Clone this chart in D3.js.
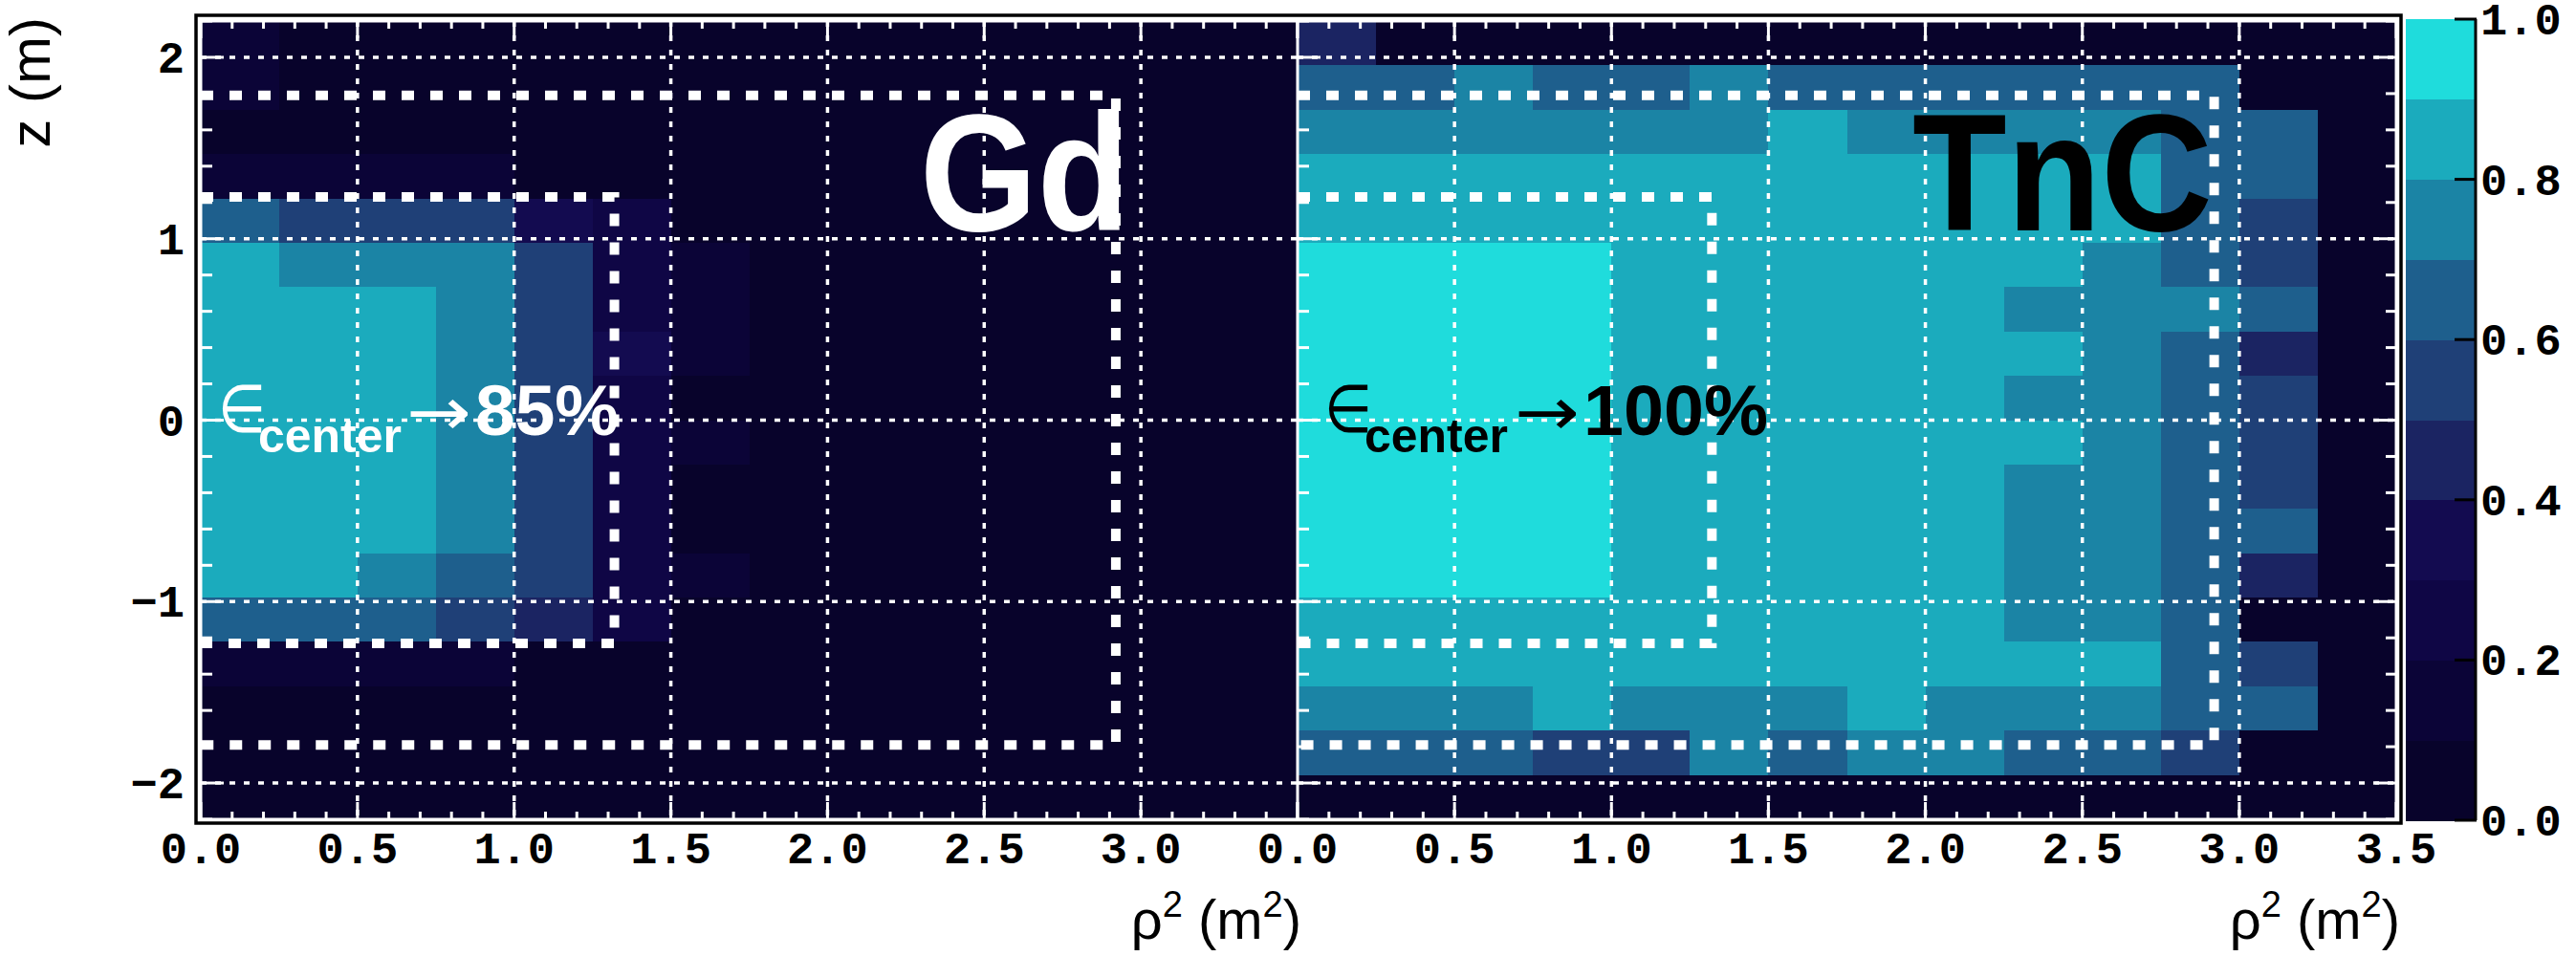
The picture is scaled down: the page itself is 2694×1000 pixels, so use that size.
<!DOCTYPE html>
<html>
<head>
<meta charset="utf-8">
<script src="https://cdn.jsdelivr.net/npm/d3@7"></script>
<style>
	body { margin: 0; background: #fff; }
	svg { display: block; }
</style>
</head>
<body>
<div id="chart"></div>
<script>
// bin edges (rho^2 in m^2, z in m, z listed from top to bottom)
const rho2Edges = [0, 0.25, 0.5, 0.75, 1, 1.25, 1.5, 1.75, 2, 2.25, 2.5, 2.75, 3, 3.25, 3.5]
const zEdges = [2.2, 1.956, 1.711, 1.467, 1.222, 0.978, 0.733, 0.489, 0.244, 0, -0.244, -0.489, -0.733, -0.978, -1.222, -1.467, -1.711, -1.956, -2.2]

// efficiency per cell, one row per z bin (top row first)
const gdEff = [
	[.15, .05, .05, .05, .05, .05, .05, .05, .05, .05, .05, .05, .05, .05],
	[.15, .05, .05, .05, .05, .05, .05, .05, .05, .05, .05, .05, .05, .05],
	[.05, .05, .05, .05, .05, .05, .05, .05, .05, .05, .05, .05, .05, .05],
	[.15, .15, .15, .15, .05, .05, .05, .05, .05, .05, .05, .05, .05, .05],
	[.65, .55, .55, .55, .35, .25, .05, .05, .05, .05, .05, .05, .05, .05],
	[.85, .75, .75, .75, .55, .25, .15, .05, .05, .05, .05, .05, .05, .05],
	[.85, .85, .85, .75, .55, .25, .15, .05, .05, .05, .05, .05, .05, .05],
	[.85, .85, .85, .75, .55, .35, .15, .05, .05, .05, .05, .05, .05, .05],
	[.85, .85, .85, .75, .55, .25, .05, .05, .05, .05, .05, .05, .05, .05],
	[.85, .85, .85, .75, .55, .25, .15, .05, .05, .05, .05, .05, .05, .05],
	[.85, .85, .85, .75, .55, .25, .05, .05, .05, .05, .05, .05, .05, .05],
	[.85, .85, .85, .75, .55, .25, .05, .05, .05, .05, .05, .05, .05, .05],
	[.85, .85, .75, .65, .55, .25, .15, .05, .05, .05, .05, .05, .05, .05],
	[.65, .65, .65, .55, .45, .25, .05, .05, .05, .05, .05, .05, .05, .05],
	[.15, .15, .15, .15, .05, .05, .05, .05, .05, .05, .05, .05, .05, .05],
	[.05, .05, .05, .05, .05, .05, .05, .05, .05, .05, .05, .05, .05, .05],
	[.05, .05, .05, .05, .05, .05, .05, .05, .05, .05, .05, .05, .05, .05],
	[.05, .05, .05, .05, .05, .05, .05, .05, .05, .05, .05, .05, .05, .05]
]

const tncEff = [
	[.45, .05, .05, .05, .05, .05, .05, .05, .05, .05, .05, .05, .05, .05],
	[.65, .65, .75, .65, .65, .75, .65, .65, .65, .65, .65, .65, .05, .05],
	[.75, .75, .75, .75, .75, .75, .85, .75, .75, .75, .75, .65, .65, .05],
	[.85, .85, .85, .85, .85, .85, .85, .85, .85, .85, .85, .65, .65, .05],
	[.85, .85, .85, .85, .85, .85, .85, .85, .85, .85, .85, .65, .55, .05],
	[.95, .95, .95, .95, .85, .85, .85, .85, .85, .85, .75, .65, .55, .05],
	[.95, .95, .95, .95, .85, .85, .85, .85, .85, .75, .75, .75, .65, .05],
	[.95, .95, .95, .95, .85, .85, .85, .85, .85, .85, .75, .65, .45, .05],
	[.95, .95, .95, .95, .85, .85, .85, .85, .85, .75, .75, .65, .55, .05],
	[.95, .95, .95, .95, .85, .85, .85, .85, .85, .85, .75, .65, .55, .05],
	[.95, .95, .95, .95, .85, .85, .85, .85, .85, .75, .75, .65, .55, .05],
	[.95, .95, .95, .95, .85, .85, .85, .85, .85, .75, .75, .65, .65, .05],
	[.95, .95, .95, .95, .85, .85, .85, .85, .85, .75, .75, .65, .45, .05],
	[.85, .85, .85, .85, .85, .85, .85, .85, .85, .75, .75, .65, .05, .05],
	[.85, .85, .85, .85, .85, .85, .85, .85, .85, .85, .85, .65, .55, .05],
	[.75, .75, .75, .85, .75, .75, .75, .85, .75, .75, .75, .65, .65, .05],
	[.65, .65, .65, .55, .55, .75, .65, .75, .75, .65, .65, .55, .05, .05],
	[.05, .05, .05, .05, .05, .05, .05, .05, .05, .05, .05, .05, .05, .05]
]

// 10 discrete palette levels, 0.0 -> 1.0
const palette = ['#08032b', '#0b0437', '#0f0645', '#130b50', '#1b2462', '#1f4077', '#1e5f8d', '#1b84a5', '#1babbd', '#1fdcdc']

const xTicksLeft = [0, 0.5, 1, 1.5, 2, 2.5, 3]
const xTicksRight = [0, 0.5, 1, 1.5, 2, 2.5, 3, 3.5]
const zTicks = [-2, -1, 0, 1, 2]
const cbTicks = [0, 0.2, 0.4, 0.6, 0.8, 1]

// fiducial volume boxes (rho^2, z)
const outerBox = [[0, 1.79], [2.92, 1.79], [2.92, -1.79], [0, -1.79]]
const innerBox = [[0, 1.23], [1.32, 1.23], [1.32, -1.23], [0, -1.23]]

const W = 2694, H = 1000
const plotTop = 22, plotBottom = 857

const svg = d3.select('#chart')
	.append('svg')
	.attr('width', W)
	.attr('height', H)
	.style('background', '#fff')

const y = d3.scaleLinear().domain([-2.2, 2.2]).range([plotBottom, plotTop])
const color = d3.scaleQuantize().domain([0, 1]).range(palette)

const panels = [
	{ data: gdEff, x0: 210, x1: 1357, ticks: xTicksLeft, label: 'Gd', ink: '#fff', rightTicks: false,
		name: { x: 962, len: 219 }, ann: { eps: 228, sub: 270, arr: 425, pct: 497, pctLen: 150, text: '85%' } },
	{ data: tncEff, x0: 1357, x1: 2506, ticks: xTicksRight, label: 'TnC', ink: '#000', rightTicks: true,
		name: { x: 2000, len: 314 }, ann: { eps: 1385, sub: 1427, arr: 1584, pct: 1656, pctLen: 193, text: '100%' } }
]

const monoFont = '"Liberation Mono", "DejaVu Sans Mono", monospace'
const sansFont = '"Liberation Sans", Arial, sans-serif'

panels.forEach(p => {
	const x = d3.scaleLinear().domain([0, 3.5]).range([p.x0, p.x1])
	const g = svg.append('g')

	const cells = []
	p.data.forEach((row, j) => {
		row.forEach((v, i) => {
			cells.push({ i, j, v })
		})
	})

	g.selectAll('rect.cell')
		.data(cells)
		.enter()
		.append('rect')
		.attr('class', 'cell')
		.attr('x', d => x(rho2Edges[d.i]))
		.attr('y', d => y(zEdges[d.j]))
		.attr('width', d => x(rho2Edges[d.i + 1]) - x(rho2Edges[d.i]) + 0.6)
		.attr('height', d => y(zEdges[d.j + 1]) - y(zEdges[d.j]) + 0.6)
		.attr('fill', d => color(d.v))
		.attr('shape-rendering', 'crispEdges')

	// grid
	g.selectAll('line.vgrid')
		.data(xTicksLeft.filter(t => t > 0))
		.enter()
		.append('line')
		.attr('x1', d => x(d)).attr('x2', d => x(d))
		.attr('y1', plotTop).attr('y2', plotBottom)
		.attr('stroke', '#fff')
		.attr('stroke-width', 3.5)
		.attr('stroke-dasharray', '6,9')

	g.selectAll('line.hgrid')
		.data(zTicks)
		.enter()
		.append('line')
		.attr('x1', p.x0).attr('x2', p.x1)
		.attr('y1', d => y(d)).attr('y2', d => y(d))
		.attr('stroke', '#fff')
		.attr('stroke-width', 3.5)
		.attr('stroke-dasharray', '6,9')

	// ticks
	const minorX = d3.range(0, 36).map(k => k / 10)
	const minorZ = d3.range(-11, 12).map(k => k / 5)
	const tickG = g.append('g').attr('stroke', '#fff').attr('stroke-width', 3)

	minorX.forEach(t => {
		const major = Math.abs(t * 2 - Math.round(t * 2)) < 1e-6
		const len = major ? 18 : 8
		tickG.append('line').attr('x1', x(t)).attr('x2', x(t)).attr('y1', plotBottom).attr('y2', plotBottom - len)
		tickG.append('line').attr('x1', x(t)).attr('x2', x(t)).attr('y1', plotTop).attr('y2', plotTop + len)
	})
	minorZ.forEach(t => {
		const major = Math.abs(t - Math.round(t)) < 1e-6
		const len = major ? 24 : 12
		tickG.append('line').attr('x1', p.x0).attr('x2', p.x0 + len).attr('y1', y(t)).attr('y2', y(t))
		if (p.rightTicks) {
			tickG.append('line').attr('x1', p.x1).attr('x2', p.x1 - (major ? 22 : 11)).attr('y1', y(t)).attr('y2', y(t))
		}
	})

	// fiducial boxes
	const line = d3.line().x(d => x(d[0])).y(d => y(d[1]))
	;[outerBox, innerBox].forEach(b => {
		g.append('path')
			.attr('d', line(b))
			.attr('fill', 'none')
			.attr('stroke', '#fff')
			.attr('stroke-width', 10)
			.attr('stroke-dasharray', '13,17')
	})

	// x tick labels
	g.selectAll('text.xtick')
		.data(p.ticks)
		.enter()
		.append('text')
		.attr('x', d => x(d))
		.attr('y', 903)
		.attr('text-anchor', 'middle')
		.attr('font-family', monoFont)
		.attr('font-weight', 'bold')
		.attr('font-size', 47)
		.text(d => d.toFixed(1))

	// axis title
	const title = g.append('text')
		.attr('x', p.x1 + 4)
		.attr('y', 982)
		.attr('text-anchor', 'end')
		.attr('font-family', sansFont)
		.attr('font-size', 58)
	title.append('tspan').text('ρ')
	title.append('tspan').attr('font-size', 38).attr('dy', -23).text('2')
	title.append('tspan').attr('dy', 23).text(' (m')
	title.append('tspan').attr('font-size', 38).attr('dy', -23).text('2')
	title.append('tspan').attr('dy', 23).text(')')

	// material label
	g.append('text')
		.attr('x', p.name.x)
		.attr('y', 241)
		.attr('font-family', sansFont)
		.attr('font-weight', 'bold')
		.attr('font-size', 175)
		.attr('textLength', p.name.len)
		.attr('lengthAdjust', 'spacingAndGlyphs')
		.attr('fill', p.ink)
		.text(p.label)

	// efficiency annotation
	const a = p.ann
	g.append('text')
		.attr('x', a.eps).attr('y', 452)
		.attr('font-family', '"DejaVu Sans", sans-serif')
		.attr('font-size', 70)
		.attr('textLength', 50)
		.attr('lengthAdjust', 'spacingAndGlyphs')
		.attr('fill', p.ink)
		.text('∈')
	g.append('text')
		.attr('x', a.sub).attr('y', 473)
		.attr('font-family', sansFont)
		.attr('font-weight', 'bold')
		.attr('font-size', 50)
		.attr('textLength', 150)
		.attr('lengthAdjust', 'spacingAndGlyphs')
		.attr('fill', p.ink)
		.text('center')
	g.append('text')
		.attr('x', a.arr).attr('y', 455)
		.attr('font-family', '"DejaVu Sans", sans-serif')
		.attr('font-size', 70)
		.attr('textLength', 68)
		.attr('lengthAdjust', 'spacingAndGlyphs')
		.attr('fill', p.ink)
		.text('→')
	g.append('text')
		.attr('x', a.pct).attr('y', 455)
		.attr('font-family', sansFont)
		.attr('font-weight', 'bold')
		.attr('font-size', 74)
		.attr('textLength', a.pctLen)
		.attr('lengthAdjust', 'spacingAndGlyphs')
		.attr('fill', p.ink)
		.text(a.text)
})

// frame
svg.append('rect')
	.attr('x', 210).attr('y', plotTop)
	.attr('width', 2506 - 210).attr('height', plotBottom - plotTop)
	.attr('fill', 'none')
	.attr('stroke', '#fff')
	.attr('stroke-width', 3)
svg.append('line')
	.attr('x1', 1357).attr('x2', 1357)
	.attr('y1', plotTop).attr('y2', plotBottom)
	.attr('stroke', '#fff')
	.attr('stroke-width', 3)
svg.append('rect')
	.attr('x', 205).attr('y', 16)
	.attr('width', 2511 - 205).attr('height', 861 - 16)
	.attr('fill', 'none')
	.attr('stroke', '#000')
	.attr('stroke-width', 3.5)

// y tick labels
svg.selectAll('text.ztick')
	.data(zTicks)
	.enter()
	.append('text')
	.attr('x', 193)
	.attr('y', d => y(d) + 16)
	.attr('text-anchor', 'end')
	.attr('font-family', monoFont)
	.attr('font-weight', 'bold')
	.attr('font-size', 47)
	.text(d => d < 0 ? '−' + Math.abs(d) : d)

svg.append('text')
	.attr('transform', 'translate(52,18) rotate(-90)')
	.attr('text-anchor', 'end')
	.attr('font-family', sansFont)
	.attr('font-size', 60)
	.text('z (m)')

// colour bar
const cb = d3.scaleLinear().domain([0, 1]).range([858, 20])
const cbX0 = 2516, cbX1 = 2589

svg.selectAll('rect.cb')
	.data(palette)
	.enter()
	.append('rect')
	.attr('x', cbX0)
	.attr('y', (d, i) => cb((i + 1) / 10))
	.attr('width', cbX1 - cbX0)
	.attr('height', (d, i) => cb(i / 10) - cb((i + 1) / 10) + 0.6)
	.attr('fill', d => d)
	.attr('shape-rendering', 'crispEdges')

svg.append('line')
	.attr('x1', cbX1).attr('x2', cbX1)
	.attr('y1', cb(0)).attr('y2', cb(1))
	.attr('stroke', '#000')
	.attr('stroke-width', 3)

svg.selectAll('line.cbtick')
	.data(cbTicks)
	.enter()
	.append('line')
	.attr('x1', cbX1 - 22).attr('x2', cbX1 + 1)
	.attr('y1', d => cb(d)).attr('y2', d => cb(d))
	.attr('stroke', '#000')
	.attr('stroke-width', 3)

svg.selectAll('text.cblabel')
	.data(cbTicks)
	.enter()
	.append('text')
	.attr('x', 2594)
	.attr('y', d => cb(d) + 16)
	.attr('font-family', monoFont)
	.attr('font-weight', 'bold')
	.attr('font-size', 47)
	.text(d => d.toFixed(1))
</script>
</body>
</html>
